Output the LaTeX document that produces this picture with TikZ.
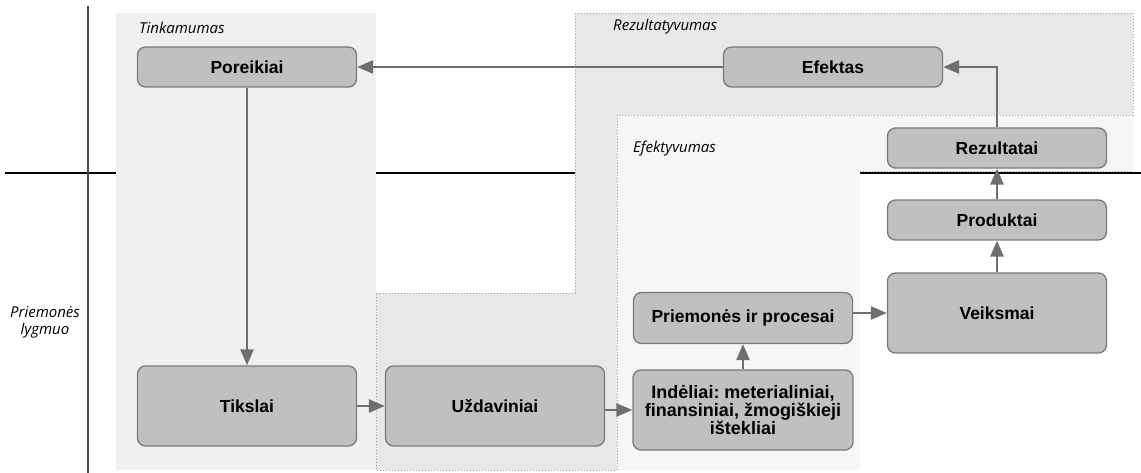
\documentclass[tikz,border=0pt]{standalone}
\usepackage{fontspec}
\setmainfont{Liberation Sans}
\newfontfamily\zymesfont{Open Sans}
\usetikzlibrary{arrows.meta}
\frenchspacing
\definecolor{blokofill}{HTML}{C0C0C0}
\definecolor{blokolinija}{HTML}{7A7A7A}
\definecolor{rodykle}{HTML}{6E6E6E}
\definecolor{tinkfill}{HTML}{F0F0F0}
\definecolor{rezfill}{HTML}{E8E8E8}
\definecolor{efefill}{HTML}{F6F6F6}
\definecolor{taskai}{HTML}{A0A0A0}
\tikzset{
    %Define standard arrow tip
    >={Triangle[length=16pt,width=13pt]},
    blokas/.style={
      rectangle,
      rounded corners=8pt,
      draw=blokolinija, line width=1.3pt,
      fill=blokofill,
      minimum width=219pt,
      minimum height=40pt,
      inner sep=2pt,
      font=\bfseries\fontsize{17.5}{18}\selectfont,
      text centered},
    aukstas/.style={
      minimum height=80pt},
    zyme/.style={
      inner sep=0pt,
      font=\zymesfont\itshape\fontsize{15}{17}\selectfont},
    sritis/.style={
      draw=taskai, line width=0.8pt,
      dash pattern=on 0.8pt off 2.2pt},
    rod/.style={
      draw=rodykle, line width=2.6pt},
}

\begin{document}
\begin{tikzpicture}[x=1pt, y=1pt, node distance=248pt]
    \useasboundingbox (0,0) rectangle (1141,-473);
    % lygio linijos
    \draw [line width=1.8pt] (5,-173) -- (1141,-173);
    \draw [line width=1.6pt, black!70] (88,-6) -- (88,-473);
    % sritys
    \fill [tinkfill] (116,-13) rectangle (376,-470);
    \fill [rezfill] (575,-13) -- (1133,-13) -- (1133,-115) -- (617,-115)
          -- (617,-470) -- (376,-470) -- (376,-293) -- (575,-293) -- cycle;
    \fill [efefill] (617,-115) -- (1133,-115) -- (1133,-172) -- (860,-172)
          -- (860,-470) -- (617,-470) -- cycle;
    \draw [sritis] (575,-13) -- (1133,-13) -- (1133,-115) -- (617,-115)
          -- (617,-470) -- (376,-470) -- (376,-293) -- (575,-293) -- cycle;
    \draw [sritis] (860,-171) -- (1133,-171);
    \node (tinkamumas) [zyme, anchor=west] at (139,-28) {Tinkamumas};
    \node (rezultatyvumas) [zyme, anchor=west] at (613,-27) {Rezultatyvumas};
    \node (efektyvumas) [zyme, anchor=west] at (633,-149) {Efektyvumas};
    \node (lygmuo) [zyme, align=center] at (45,-322) {Priemonės\\lygmuo};
    % blokai
    \node (poreikiai) [blokas] at (247,-67)
          {Poreikiai};
    \node (efektas) [blokas] [right of=poreikiai, node distance=586pt]
          {Efektas}
          edge [->, rod] (poreikiai);
    \node (tikslai) [blokas, aukstas] [below of=poreikiai, yshift=-91pt]
          {Tikslai}
          edge [<-, rod] (poreikiai);
    \node (uzdaviniai) [blokas, aukstas] [right of=tikslai]
          {Uždaviniai}
          edge [<-, rod] (tikslai);
    \node (indeliai) [blokas, aukstas, minimum width=220pt,
          font=\bfseries\fontsize{18}{18}\selectfont, align=center]
          [right of=uzdaviniai, yshift=-4pt]
          {Indėliai: meterialiniai,\\finansiniai, žmogiškieji\\ištekliai};
    \node (priemones) [blokas, minimum height=51pt] [above of=indeliai, node distance=92pt]
          {Priemonės ir procesai}
          edge [<-, rod] (indeliai);
    \node (veiksmai) [blokas, aukstas] [right of=priemones, xshift=6pt, yshift=5pt]
          {Veiksmai};
    \node (produktai) [blokas] [above of=veiksmai, node distance=93pt]
          {Produktai}
          edge [<-, rod] (veiksmai);
    \node (rezultatai) [blokas] [above of=produktai, node distance=72pt]
          {Rezultatai}
          edge [<-, rod] (produktai);
    \draw [->, rod] (uzdaviniai.east |- indeliai.west) -- (indeliai.west);
    \draw [->, rod] (priemones.east |- veiksmai.west) -- (veiksmai.west);
    \draw [->, rod] (rezultatai.north) |- (efektas.east);
\end{tikzpicture}
\end{document}
